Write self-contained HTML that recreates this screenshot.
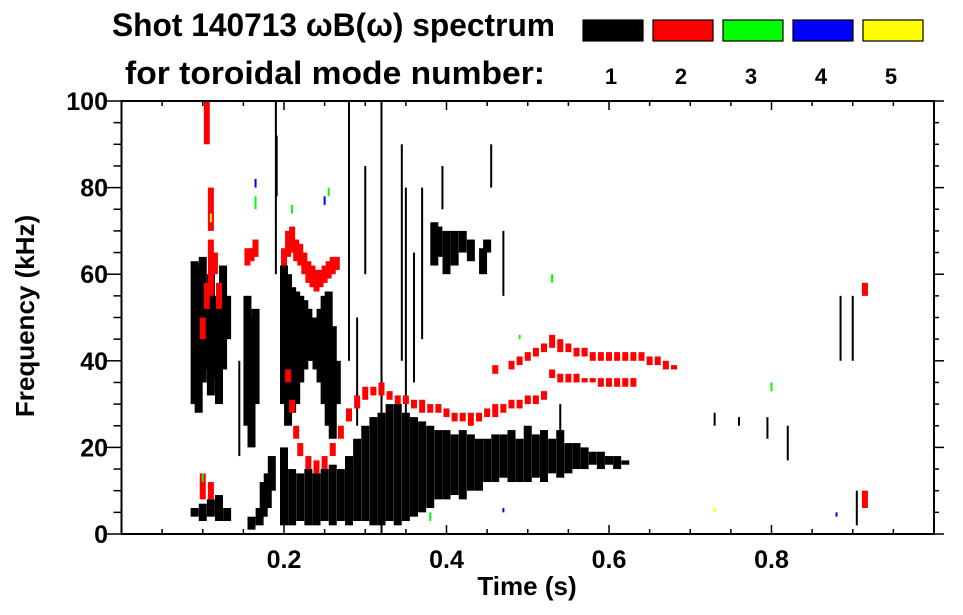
<!DOCTYPE html>
<html><head><meta charset="utf-8"><style>
html,body{margin:0;padding:0;background:#fff;}
svg{display:block;font-family:"Liberation Sans",sans-serif;font-weight:bold;}
</style></head><body>
<svg id="chart" width="963" height="615" viewBox="0 0 963 615" xmlns="http://www.w3.org/2000/svg">
<text x="112" y="36" font-size="32" textLength="443" lengthAdjust="spacingAndGlyphs">Shot 140713 ωB(ω) spectrum</text>
<text x="125" y="84" font-size="32" textLength="420" lengthAdjust="spacingAndGlyphs">for toroidal mode number:</text>
<g id="legend"></g>
<g id="marks"></g>
<g id="axes"></g>
<text x="527" y="595" font-size="26" text-anchor="middle">Time (s)</text>
<text transform="translate(34,316) rotate(-90)" font-size="26" text-anchor="middle">Frequency (kHz)</text>
</svg>
<script>
// ---- data ----
const modeNumbers = ["1","2","3","4","5"];
const modeColors = ["#000000","#ff0000","#00ff00","#0000ff","#ffff00"];
const xTicks = [0.2,0.4,0.6,0.8];
const xTickLabels = ["0.2","0.4","0.6","0.8"];
const yTicks = [0,20,40,60,80,100];
const yTickLabels = ["0","20","40","60","80","100"];
// mode 1 (black) broad columns: time, low freq, high freq
const m1T  = [0.090,0.095,0.100,0.105,0.110,0.115,0.120,0.125,0.130, 0.090,0.100,0.110,0.120,0.130,0.160,0.170,0.175,0.180,0.185, 0.155,0.160,0.165,
  0.200,0.205,0.210,0.215,0.220,0.225,0.230,0.235,0.240,0.245,0.250,0.255,0.260,0.265,
  0.20,0.21,0.22,0.23,0.24,0.25,0.26,0.27,0.28,0.29,0.30,0.31,0.32,0.33,0.34,0.35,0.36,0.37,0.38,0.39,0.40,0.41,0.42,0.43,0.44,0.45,0.46,0.47,0.48,0.49,0.50,0.51,0.52,0.53,0.54,0.55,0.56,0.57,0.58,0.59,0.60,0.61,0.62,
  0.385,0.390,0.400,0.410,0.420,0.430,0.445,0.450];
const m1Lo = [30,28,35,38,32,36,30,38,45, 4,3,4,3,3,1,2,4,6,10, 25,20,30,
  30,25,28,30,35,38,40,40,38,35,30,25,22,30,
  2,2,3,2,2,3,2,3,2,3,3,2,2,3,2,3,4,5,6,8,8,9,8,10,10,12,12,13,12,12,12,13,12,14,13,14,15,15,16,15,16,15,16,
  62,64,60,62,65,63,60,65];
const m1Hi = [63,62,64,58,60,55,52,62,55, 6,7,8,9,6,4,6,12,14,18, 55,50,52,
  62,60,57,56,55,54,52,50,50,52,55,56,48,40,
  20,15,14,15,14,15,16,15,18,22,25,27,28,30,30,28,27,26,25,24,24,23,24,23,22,22,23,23,24,22,25,23,24,22,24,21,21,20,19,19,18,18,17,
  72,71,70,70,70,68,66,68];
// mode 1 thin streaks
const m1sT  = [0.190,0.191,0.280,0.290,0.300,0.320,0.345,0.350,0.360,0.370,0.395,0.145,0.455,0.730,0.760,0.795,0.820,0.885,0.900,0.905,0.540,0.470];
const m1sLo = [60,78,40,25,60,0,40,20,35,45,75,18,80,25,25,22,17,40,40,2,22,55];
const m1sHi = [100,92,100,50,85,100,90,80,65,80,85,40,90,28,27,27,25,55,55,10,30,70];
// mode 2 (red)
const m2T  = [0.100,0.105,0.110,0.115,0.120,0.105,0.110,0.100,0.110,0.155,0.160,0.165,
  0.200,0.205,0.210,0.215,0.220,0.225,0.230,0.235,0.240,0.245,0.250,0.255,0.260,0.265,
  0.205,0.21,0.215,0.22,0.23,0.24,0.25,0.26,0.27,0.28,0.29,0.30,0.31,0.32,0.33,0.34,0.35,0.36,0.37,0.38,0.39,0.40,0.41,0.42,0.43,0.44,0.45,0.46,0.47,0.48,0.49,0.50,0.51,0.52,
  0.46,0.48,0.49,0.50,0.51,0.52,0.53,0.54,0.55,0.56,0.57,0.58,0.59,0.60,0.61,0.62,0.63,0.64,0.65,0.66,0.67,0.68,
  0.53,0.54,0.55,0.56,0.57,0.58,0.59,0.60,0.61,0.62,0.63, 0.915,0.915];
const m2Lo = [45,52,55,60,52,90,70,8,8,62,63,64,
  62,64,65,63,62,60,58,57,56,57,58,59,60,61,
  35,28,22,18,15,14,15,18,22,26,29,31,32,32,31,30,30,29,28,28,28,27,26,26,25,26,27,27,28,29,29,30,30,31,
  37,38,39,40,41,42,43,42,42,41,41,40,40,40,40,40,40,40,39,39,38,38,
  36,35,35,35,35,35,34,34,34,34,34, 55,6];
const m2Hi = [50,58,68,65,58,100,80,14,12,66,66,68,
  66,70,71,68,67,65,63,62,61,61,62,63,64,64,
  38,31,25,21,18,17,18,21,25,29,32,34,34,35,33,32,32,31,31,30,30,29,28,28,28,28,29,30,30,31,31,32,32,33,
  39,40,41,42,43,44,46,45,44,43,43,42,42,42,42,42,42,42,41,41,40,39,
  38,37,37,37,36,36,36,36,36,36,36, 58,10];
// modes 3-5 scattered
const m3T = [0.100,0.165,0.210,0.255,0.530,0.490,0.380,0.800];
const m3Lo = [12,75,74,78,58,45,3,33];
const m3Hi = [14,78,76,80,60,46,5,35];
const m4T = [0.165,0.250,0.880,0.470];
const m4Lo = [80,76,4,5];
const m4Hi = [82,78,5,6];
const m5T = [0.730,0.110];
const m5Lo = [5,72];
const m5Hi = [6,74];

// ---- axes functions ----
const X0=121.5, X1=934, Y0=534, Y1=101;
const xs = t => X0 + t*(X1-X0);
const ys = f => Y0 - f/100*(Y0-Y1);
const NS="http://www.w3.org/2000/svg";
function mk(tag, parent, attrs){const e=document.createElementNS(NS,tag);for(const k in attrs)e.setAttribute(k,attrs[k]);parent.appendChild(e);return e;}

const legend=document.getElementById('legend');
modeNumbers.forEach((m,i)=>{
  const x=583+i*70;
  const r=mk('rect',legend,{x:x,y:20,width:60,height:21,fill:modeColors[i],stroke:'#000','stroke-width':1.2});
  
  
  const t=mk('text',legend,{x:x+28,y:84,'font-size':22,'text-anchor':'middle'});
  t.textContent=m;
  
  
});

const marks=document.getElementById('marks');
function drawCols(T,Lo,Hi,color,w,name){
  T.forEach((t,i)=>{
    const y1=ys(Hi[i]), y2=ys(Lo[i]);
    const r=mk('rect',marks,{x:xs(t)-w/2,y:y1,width:w,height:Math.max(1,y2-y1),fill:color});
    
    
  });
}
drawCols(m1T,m1Lo,m1Hi,'#000',8,'mode1-column');
drawCols(m1sT,m1sLo,m1sHi,'#000',2,'mode1-streak');
drawCols(m2T,m2Lo,m2Hi,'#ff0000',6,'mode2-column');
drawCols(m3T,m3Lo,m3Hi,'#00ff00',2,'mode3-column');
drawCols(m4T,m4Lo,m4Hi,'#0000ff',2,'mode4-column');
drawCols(m5T,m5Lo,m5Hi,'#ffff00',2,'mode5-column');

const axes=document.getElementById('axes');
const frame=mk('rect',axes,{x:X0,y:Y1,width:X1-X0,height:Y0-Y1,fill:'none',stroke:'#000','stroke-width':2});


for(let k=1;k<20;k++){
  const t=k*0.05, maj=(k%4===0);
  const L=maj?9:5;
  mk('line',axes,{x1:xs(t),x2:xs(t),y1:Y0,y2:Y0-L,stroke:'#000','stroke-width':1.5});
  mk('line',axes,{x1:xs(t),x2:xs(t),y1:Y1,y2:Y1+L,stroke:'#000','stroke-width':1.5});
}
for(let f=0;f<=100;f+=5){
  const maj=(f%20===0), L=maj?16:8;
  mk('line',axes,{x1:X0-L,x2:X0,y1:ys(f),y2:ys(f),stroke:'#000','stroke-width':1.5});
  mk('line',axes,{x1:X1,x2:X1+(maj?10:5),y1:ys(f),y2:ys(f),stroke:'#000','stroke-width':1.5});
}
xTicks.forEach((t,i)=>{
  const e=mk('text',axes,{x:xs(t),y:568,'font-size':25,'text-anchor':'middle'});
  e.textContent=xTickLabels[i];
  
  
});
yTicks.forEach((f,i)=>{
  const e=mk('text',axes,{x:108,y:ys(f)+9,'font-size':25,'text-anchor':'end'});
  e.textContent=yTickLabels[i];
  
  
});
</script>
</body></html>
